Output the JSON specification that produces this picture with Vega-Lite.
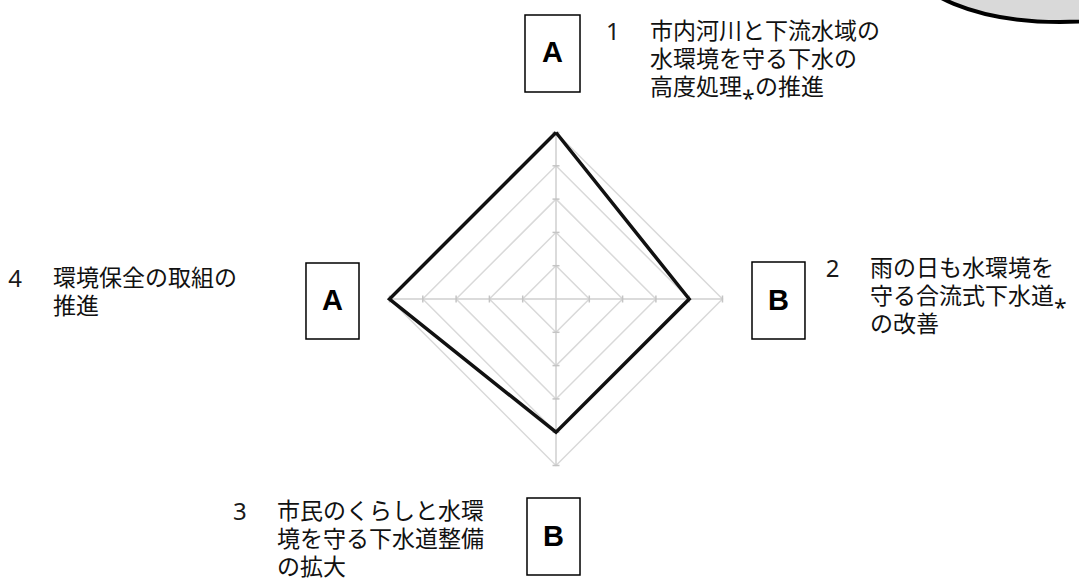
{
  "$schema": "https://vega.github.io/schema/vega-lite/v6.json",
  "width": 1079,
  "height": 580,
  "padding": 0,
  "autosize": {"type": "none"},
  "background": "white",
  "config": {"view": {"stroke": null}, "font": "Noto Sans CJK JP"},
  "datasets": {
    "grid": [
      {"level": 1, "ord": 0, "x": 0, "y": 1, "dir": "v"},
      {"level": 1, "ord": 1, "x": 1, "y": 0, "dir": "h"},
      {"level": 1, "ord": 2, "x": 0, "y": -1, "dir": "v"},
      {"level": 1, "ord": 3, "x": -1, "y": 0, "dir": "h"},
      {"level": 1, "ord": 4, "x": 0, "y": 1, "dir": "v"},
      {"level": 2, "ord": 0, "x": 0, "y": 2, "dir": "v"},
      {"level": 2, "ord": 1, "x": 2, "y": 0, "dir": "h"},
      {"level": 2, "ord": 2, "x": 0, "y": -2, "dir": "v"},
      {"level": 2, "ord": 3, "x": -2, "y": 0, "dir": "h"},
      {"level": 2, "ord": 4, "x": 0, "y": 2, "dir": "v"},
      {"level": 3, "ord": 0, "x": 0, "y": 3, "dir": "v"},
      {"level": 3, "ord": 1, "x": 3, "y": 0, "dir": "h"},
      {"level": 3, "ord": 2, "x": 0, "y": -3, "dir": "v"},
      {"level": 3, "ord": 3, "x": -3, "y": 0, "dir": "h"},
      {"level": 3, "ord": 4, "x": 0, "y": 3, "dir": "v"},
      {"level": 4, "ord": 0, "x": 0, "y": 4, "dir": "v"},
      {"level": 4, "ord": 1, "x": 4, "y": 0, "dir": "h"},
      {"level": 4, "ord": 2, "x": 0, "y": -4, "dir": "v"},
      {"level": 4, "ord": 3, "x": -4, "y": 0, "dir": "h"},
      {"level": 4, "ord": 4, "x": 0, "y": 4, "dir": "v"},
      {"level": 5, "ord": 0, "x": 0, "y": 5, "dir": "v"},
      {"level": 5, "ord": 1, "x": 5, "y": 0, "dir": "h"},
      {"level": 5, "ord": 2, "x": 0, "y": -5, "dir": "v"},
      {"level": 5, "ord": 3, "x": -5, "y": 0, "dir": "h"},
      {"level": 5, "ord": 4, "x": 0, "y": 5, "dir": "v"}
    ],
    "axes": [
      {"x": -5, "y": 0, "x2": 5, "y2": 0},
      {"x": 0, "y": -5, "x2": 0, "y2": 5}
    ],
    "scores": [
      {"ord": 0, "item": "1", "grade": "A", "x": 0, "y": 5},
      {"ord": 1, "item": "2", "grade": "B", "x": 4, "y": 0},
      {"ord": 2, "item": "3", "grade": "B", "x": 0, "y": -4},
      {"ord": 3, "item": "4", "grade": "A", "x": -5, "y": 0},
      {"ord": 4, "item": "1", "grade": "A", "x": 0, "y": 5}
    ],
    "boxes": [
      {"g": "A", "x": -0.931, "x2": 0.721, "y": 8.529, "y2": 6.216, "cx": -0.105, "cy": 7.3725},
      {"g": "B", "x": 5.886, "x2": 7.477, "y": 1.111, "y2": -1.201, "cx": 6.6815, "cy": -0.045},
      {"g": "A", "x": -7.508, "x2": -5.916, "y": 1.081, "y2": -1.201, "cx": -6.712, "cy": -0.06},
      {"g": "B", "x": -0.871, "x2": 0.721, "y": -5.976, "y2": -8.288, "cx": -0.075, "cy": -7.132}
    ],
    "labels": [
      {"num": "1", "nx": 1.5, "tx": 2.823, "y": 8.35, "text": "市内河川と下流水域の\n水環境を守る下水の\n高度処理⁎の推進"},
      {"num": "2", "nx": 8.1, "tx": 9.429, "y": 1.231, "text": "雨の日も水環境を\n守る合流式下水道⁎\nの改善"},
      {"num": "3", "nx": -9.7, "tx": -8.378, "y": -6.07, "text": "市民のくらしと水環\n境を守る下水道整備\nの拡大"},
      {"num": "4", "nx": -16.45, "tx": -15.105, "y": 0.93, "text": "環境保全の取組の\n推進"}
    ],
    "bubble": [{"x": 15.135, "y": 10.18}]
  },
  "encoding": {
    "x": {"field": "x", "type": "quantitative", "scale": {"domain": [-16.697, 15.706], "nice": false, "zero": false}, "axis": null},
    "y": {"field": "y", "type": "quantitative", "scale": {"domain": [-8.438, 8.979], "nice": false, "zero": false}, "axis": null}
  },
  "layer": [
    {
      "data": {"name": "bubble"},
      "mark": {"type": "point", "shape": "M -1 0 C -1 -0.2283 -0.5523 -0.4133 0 -0.4133 C 0.5523 -0.4133 1 -0.2283 1 0 C 1 0.2283 0.5523 0.4133 0 0.4133 C -0.5523 0.4133 -1 0.2283 -1 0 Z", "size": 90000, "filled": true, "fill": "#d9d9d9", "stroke": "#000000", "strokeWidth": 4, "opacity": 1, "fillOpacity": 1, "strokeOpacity": 1}
    },
    {
      "data": {"name": "grid"},
      "mark": {"type": "line", "color": "#d9d9d9", "strokeWidth": 1.5},
      "encoding": {"detail": {"field": "level"}, "order": {"field": "ord"}}
    },
    {
      "data": {"name": "axes"},
      "mark": {"type": "rule", "color": "#cfcfcf", "strokeWidth": 1.5},
      "encoding": {"x2": {"field": "x2"}, "y2": {"field": "y2"}}
    },
    {
      "data": {"name": "grid"},
      "transform": [{"filter": "datum.ord < 4"}],
      "mark": {"type": "point", "size": 49, "strokeWidth": 1.5, "color": "#c4c4c4", "opacity": 1, "filled": false},
      "encoding": {
        "shape": {"field": "dir", "type": "nominal", "scale": {"domain": ["h", "v"], "range": ["M 0 -1 L 0 1", "M -1 0 L 1 0"]}, "legend": null}
      }
    },
    {
      "data": {"name": "scores"},
      "mark": {"type": "line", "color": "#111111", "strokeWidth": 3.5, "strokeJoin": "miter"},
      "encoding": {"order": {"field": "ord"}}
    },
    {
      "data": {"name": "boxes"},
      "mark": {"type": "rect", "fill": "white", "stroke": "#000000", "strokeWidth": 1.5},
      "encoding": {"x2": {"field": "x2"}, "y2": {"field": "y2"}}
    },
    {
      "data": {"name": "boxes"},
      "mark": {"type": "text", "font": "Liberation Sans", "fontWeight": "bold", "fontSize": 29, "align": "center", "baseline": "middle", "color": "#000000"},
      "encoding": {"x": {"field": "cx", "type": "quantitative"}, "y": {"field": "cy", "type": "quantitative"}, "text": {"field": "g"}}
    },
    {
      "data": {"name": "labels"},
      "mark": {"type": "text", "font": "Noto Sans", "fontSize": 24, "align": "left", "baseline": "top", "color": "#1a1a1a"},
      "encoding": {"x": {"field": "nx", "type": "quantitative"}, "text": {"field": "num"}}
    },
    {
      "data": {"name": "labels"},
      "mark": {"type": "text", "fontSize": 23, "align": "left", "baseline": "top", "lineBreak": "\n", "lineHeight": 28, "color": "#111111"},
      "encoding": {"x": {"field": "tx", "type": "quantitative"}, "text": {"field": "text"}}
    }
  ]
}
